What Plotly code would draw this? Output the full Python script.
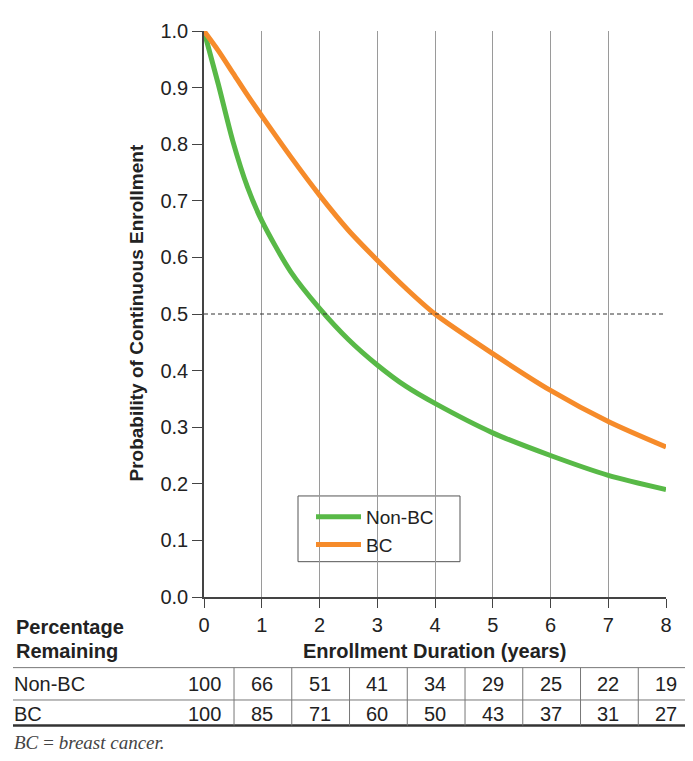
import plotly.graph_objects as go

# Data
years = [0, 0.25, 0.5, 0.75, 1, 1.5, 2, 2.5, 3, 3.5, 4, 5, 6, 7, 8]
non_bc = [1.0, 0.905, 0.805, 0.725, 0.665, 0.575, 0.51, 0.455, 0.41, 0.372, 0.342, 0.29, 0.25, 0.215, 0.19]
bc = [1.0, 0.965, 0.926, 0.887, 0.85, 0.778, 0.71, 0.648, 0.595, 0.545, 0.50, 0.43, 0.365, 0.31, 0.265]

table_years = [0, 1, 2, 3, 4, 5, 6, 7, 8]
table_non_bc = [100, 66, 51, 41, 34, 29, 25, 22, 19]
table_bc = [100, 85, 71, 60, 50, 43, 37, 31, 27]

GREEN = "#58B947"
ORANGE = "#F68B2A"
OFF = 8  # page body margin
PAGE_W, PAGE_H = 693, 761
W, H = PAGE_W - OFF, PAGE_H - OFF
# plot area in page pixels
PX0, PX1, PY0, PY1 = 204, 666, 20, 597
L, R, T, B = PX0 - OFF, W - (PX1 - OFF), PY0 - OFF, H - (PY1 - OFF)


def py(ypx):
    return (PY1 - ypx) / (PY1 - PY0)


def px(xpx):
    return (xpx - PX0) / (PX1 - PX0)


fig = go.Figure()
fig.add_trace(go.Scatter(x=years, y=non_bc, mode="lines", name="Non-BC",
                         line=dict(color=GREEN, width=5, shape="spline", smoothing=0.8)))
fig.add_trace(go.Scatter(x=years, y=bc, mode="lines", name="BC",
                         line=dict(color=ORANGE, width=5, shape="spline", smoothing=0.8)))

font = "Liberation Sans, Arial, sans-serif"
fig.update_layout(
    width=W, height=H, margin=dict(l=L, r=R, t=T, b=B),
    paper_bgcolor="white", plot_bgcolor="white",
    font=dict(family=font, size=20, color="#222"),
    showlegend=True,
    legend=dict(x=px(311), y=py(496), xanchor="left", yanchor="top",
                borderwidth=0, bgcolor="rgba(0,0,0,0)", itemwidth=45,
                font=dict(size=19, color="#222"), tracegroupgap=0),
    xaxis=dict(range=[0, 8], tickvals=table_years, showgrid=True, gridcolor="#9a9a9a", gridwidth=1,
               showline=True, linecolor="#444", linewidth=1.5, ticks="outside", ticklen=9,
               tickcolor="#444", zeroline=False, tickfont=dict(size=20)),
    yaxis=dict(range=[0, 1], tickvals=[i / 10 for i in range(11)], tickformat=".1f",
               showgrid=False, showline=True, linecolor="#444", linewidth=1.5, ticks="outside",
               ticklen=10, tickcolor="#444", zeroline=False, tickfont=dict(size=20)),
)

# legend box
fig.add_shape(type="rect", xref="paper", yref="paper", x0=px(298), x1=px(460), y0=py(561), y1=py(494),
              line=dict(color="#555", width=1), fillcolor="white", layer="below")

# y title
fig.add_annotation(text="<b>Probability of Continuous Enrollment</b>", xref="paper", yref="paper",
                   x=px(137), y=py(308), xanchor="center", yanchor="middle", textangle=-90,
                   showarrow=False, font=dict(size=19))

# dashed 0.5 line
fig.add_shape(type="line", xref="x", yref="y", x0=0, x1=8, y0=0.5, y1=0.5,
              line=dict(color="#333", width=1, dash="4px,3px"))

# table headers
fig.add_annotation(text="<b>Percentage</b>", xref="paper", yref="paper",
                   x=px(14), y=py(628), xanchor="left", yanchor="middle", showarrow=False,
                   font=dict(size=20))
fig.add_annotation(text="<b>Remaining</b>", xref="paper", yref="paper",
                   x=px(14), y=py(652), xanchor="left", yanchor="middle", showarrow=False,
                   font=dict(size=20))
fig.add_annotation(text="<b>Enrollment Duration (years)</b>", xref="paper", yref="paper",
                   x=px(434), y=py(652), xanchor="center", yanchor="middle", showarrow=False,
                   font=dict(size=20))

# table lines
fig.add_shape(type="line", xref="paper", yref="paper", x0=px(13), x1=px(700), y0=py(669), y1=py(669),
              line=dict(color="#777", width=1))
fig.add_shape(type="line", xref="paper", yref="paper", x0=px(13), x1=px(700), y0=py(702), y1=py(702),
              line=dict(color="#777", width=1))
fig.add_shape(type="line", xref="paper", yref="paper", x0=px(13), x1=px(700), y0=py(728), y1=py(728),
              line=dict(color="#333", width=2.5))
for k in table_years:
    fig.add_shape(type="line", xref="x", yref="paper", x0=k - 0.48, x1=k - 0.48, y0=py(669), y1=py(728),
                  line=dict(color="#777", width=1))

for label, vals, ypx in [("Non-BC", table_non_bc, 686), ("BC", table_bc, 716)]:
    fig.add_annotation(text=label, xref="paper", yref="paper", x=px(12), y=py(ypx),
                       xanchor="left", yanchor="middle", showarrow=False, font=dict(size=20))
    for xv, v in zip(table_years, vals):
        fig.add_annotation(text=str(v), xref="x", yref="paper", x=xv, y=py(ypx),
                           xanchor="center", yanchor="middle", showarrow=False, font=dict(size=20))

fig.add_annotation(text="<i>BC\u2009=\u2009breast cancer.</i>", xref="paper", yref="paper", x=px(12), y=py(745),
                   xanchor="left", yanchor="middle", showarrow=False,
                   font=dict(size=19, family="Liberation Serif, Times New Roman, serif", color="#444"))

fig.write_html("out.html")
